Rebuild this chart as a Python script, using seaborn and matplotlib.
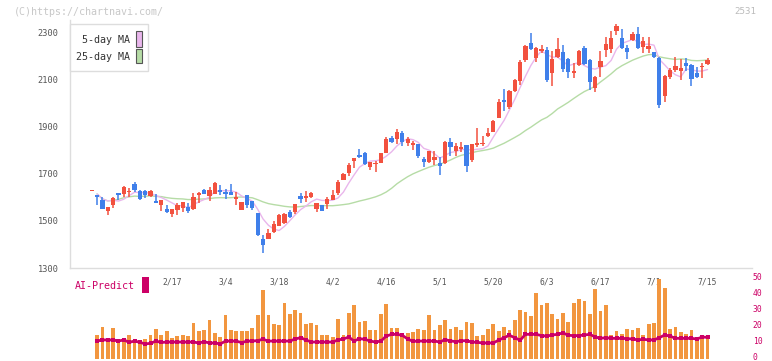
import numpy as np
import pandas as pd
import matplotlib
import matplotlib.pyplot as plt
import matplotlib.transforms as mtrans
from matplotlib.patches import Rectangle
import seaborn as sns

matplotlib.use("Agg")
sns.set_style("white")
plt.rcParams['font.family'] = ['DejaVu Sans Mono', 'DejaVu Sans']

# daily prices
opens = [1626, 1611, 1588, 1543, 1567, 1617, 1612, 1621, 1656, 1626,
         1627, 1605, 1584, 1568, 1550, 1530, 1546, 1553, 1558, 1550,
         1610, 1632, 1605, 1614, 1631, 1619, 1623, 1594, 1546, 1609,
         1584, 1532, 1423, 1423, 1451, 1479, 1489, 1539, 1539, 1605,
         1598, 1600, 1549, 1567, 1571, 1588, 1619, 1673, 1704, 1753,
         1779, 1787, 1729, 1739, 1746, 1786, 1850, 1845, 1871, 1831,
         1821, 1825, 1762, 1749, 1758, 1746, 1744, 1835, 1797, 1806,
         1821, 1758, 1821, 1825, 1861, 1878, 1937, 2011, 1983, 2051,
         2094, 2181, 2252, 2191, 2220, 2222, 2128, 2196, 2217, 2186,
         2128, 2162, 2231, 2181, 2064, 2153, 2224, 2229, 2304, 2274,
         2234, 2266, 2292, 2238, 2228, 2215, 2191, 2029, 2108, 2139,
         2136, 2169, 2160, 2128, 2150, 2164]
highs = [1626, 1611, 1600, 1558, 1600, 1617, 1647, 1638, 1666, 1630,
         1630, 1630, 1614, 1589, 1567, 1550, 1574, 1578, 1574, 1617,
         1623, 1635, 1642, 1664, 1652, 1635, 1656, 1623, 1580, 1609,
         1584, 1532, 1440, 1464, 1499, 1527, 1534, 1546, 1571, 1619,
         1626, 1623, 1576, 1567, 1600, 1631, 1673, 1701, 1746, 1765,
         1804, 1790, 1750, 1753, 1789, 1856, 1859, 1889, 1881, 1854,
         1838, 1825, 1772, 1796, 1797, 1769, 1839, 1850, 1831, 1833,
         1821, 1824, 1894, 1859, 1892, 1927, 2016, 2058, 2053, 2100,
         2183, 2245, 2297, 2235, 2245, 2238, 2219, 2276, 2245, 2190,
         2167, 2222, 2242, 2185, 2115, 2219, 2278, 2304, 2334, 2311,
         2245, 2300, 2322, 2280, 2280, 2217, 2195, 2117, 2149, 2193,
         2184, 2188, 2165, 2151, 2170, 2191]
lows = [1626, 1568, 1549, 1526, 1553, 1588, 1602, 1600, 1623, 1588,
        1595, 1600, 1574, 1543, 1532, 1517, 1525, 1539, 1534, 1546,
        1577, 1612, 1585, 1612, 1609, 1591, 1611, 1567, 1546, 1553,
        1546, 1436, 1365, 1423, 1447, 1477, 1486, 1511, 1529, 1577,
        1580, 1597, 1539, 1541, 1549, 1588, 1609, 1673, 1690, 1725,
        1767, 1738, 1715, 1708, 1743, 1786, 1828, 1824, 1817, 1817,
        1800, 1765, 1729, 1744, 1736, 1694, 1740, 1775, 1776, 1790,
        1708, 1748, 1814, 1818, 1856, 1878, 1937, 1965, 1974, 2047,
        2075, 2175, 2225, 2174, 2210, 2087, 2072, 2190, 2132, 2104,
        2104, 2157, 2160, 2054, 2047, 2108, 2196, 2210, 2287, 2230,
        2184, 2260, 2228, 2212, 2210, 2188, 1977, 2005, 2103, 2132,
        2097, 2136, 2072, 2104, 2104, 2160]
closes = [1626, 1602, 1551, 1558, 1598, 1609, 1642, 1627, 1629, 1592,
          1609, 1627, 1577, 1589, 1537, 1550, 1567, 1578, 1543, 1601,
          1614, 1614, 1631, 1660, 1620, 1614, 1611, 1602, 1580, 1567,
          1555, 1440, 1397, 1447, 1485, 1525, 1529, 1517, 1571, 1594,
          1602, 1619, 1574, 1543, 1592, 1609, 1666, 1697, 1736, 1765,
          1772, 1742, 1750, 1744, 1786, 1847, 1835, 1875, 1835, 1847,
          1828, 1776, 1750, 1796, 1772, 1733, 1835, 1811, 1818, 1813,
          1734, 1824, 1828, 1827, 1873, 1922, 2002, 2002, 2050, 2097,
          2174, 2241, 2227, 2231, 2228, 2097, 2186, 2228, 2143, 2130,
          2135, 2219, 2163, 2087, 2111, 2177, 2249, 2274, 2325, 2234,
          2217, 2292, 2231, 2263, 2241, 2195, 1991, 2114, 2139, 2156,
          2149, 2157, 2100, 2111, 2156, 2181]

# volume panel (from the 2nd day on)
volume = [14.7, 19.7, 10.9, 19.1, 10.9, 10.9, 14.7, 10.9, 10.9, 12.2,
          14.7, 18.4, 14.7, 17.2, 12.8, 14.1, 14.7, 14.1, 22.2, 17.2,
          17.8, 24.1, 16.1, 13.4, 27.2, 17.8, 17.2, 17.2, 17.2, 19.1,
          27.2, 42.8, 27.2, 21.6, 20.9, 34.7, 27.8, 30.3, 28.4, 21.6,
          22.2, 20.9, 14.7, 14.7, 13.4, 24.7, 14.7, 28.4, 33.4, 22.8,
          23.4, 17.8, 17.8, 27.8, 34.1,
          19.1, 19.1, 16.0, 16.0, 16.6, 18.4, 17.8, 27.2, 17.8, 20.9,
          24.1, 18.4, 19.7, 17.8, 22.8, 22.2, 14.1, 14.7, 18.4, 21.6,
          17.2, 19.7, 17.8, 24.1, 30.3, 29.1, 26.6, 40.9, 33.4, 34.7,
          27.8, 24.7, 28.4, 22.8, 34.7, 37.2, 35.9, 27.8, 43.4, 29.7,
          33.4, 14.7, 17.2, 15.3, 18.4, 17.8, 19.1, 14.7, 21.6, 21.9,
          49.7, 44.1, 18.4, 19.7, 16.6, 15.3, 17.8, 11.6, 14.1, 14.7]
ai_predict = [10.9, 11.6, 11.6, 11.6, 10.9, 11.6, 10.1, 10.9, 10.1, 9.1,
              9.5, 10.9, 10.0, 10.3, 10.3, 10.3, 10.3, 10.3, 10.3, 9.7,
              10.5, 9.7, 9.7, 9.1, 10.9, 10.9, 10.9, 9.9, 10.9, 10.9,
              11.2, 12.0, 10.9, 10.9, 10.9, 10.9, 10.9, 12.2, 13.0, 11.6,
              10.3, 10.3, 10.3, 10.3, 10.3, 11.6, 12.2, 13.4, 10.9, 12.4,
              12.0, 10.9, 10.3, 10.9,
              14.0, 15.1, 15.1, 14.5, 12.2, 10.7, 10.9, 10.9, 10.9, 10.9,
              10.3, 11.8, 11.0, 10.5, 11.1, 11.1, 10.3, 10.1, 9.7, 9.7,
              9.7, 11.5, 13.0, 14.5, 13.0, 11.4, 15.1, 15.1, 15.1, 14.3,
              14.0, 14.7, 15.1, 16.0, 14.5, 14.3, 14.3, 14.7, 15.1, 13.5,
              12.6, 13.0, 12.6, 12.6, 12.6, 12.4, 12.2, 11.6, 12.0, 11.6,
              11.6, 13.0, 14.7, 14.0, 12.6, 12.6, 12.6, 12.6, 12.2, 13.4, 13.2]

date_labels = ["2/17", "3/4", "3/18", "4/2", "4/16", "5/1",
               "5/20", "6/3", "6/17", "7/1", "7/15"]
date_idx = [15, 25, 35, 45, 55, 65, 75, 85, 95, 105, 115]

price_ticks = [1300, 1500, 1700, 1900, 2100, 2300]
vol_ticks = [0, 10, 20, 30, 40, 50]

df = pd.DataFrame({"open": opens, "high": highs, "low": lows, "close": closes})
df["idx"] = np.arange(len(df))
df["ma5"] = df["close"].rolling(5, min_periods=1).mean()
df["ma25"] = df["close"].rolling(25, min_periods=1).mean()

vol_df = pd.DataFrame({"idx": np.arange(1, len(df)), "vol": volume, "ai": ai_predict})

RED = "#f2513f"
BLUE = "#3f7fea"
ORANGE = "#f2963f"
MAGENTA = "#cc0066"
PINK = "#e9b6ec"
GREEN = "#b6dca6"
GRID = "#dddddd"

W, H = 772, 361
fig = plt.figure(figsize=(W / 100, H / 100), dpi=100)
ax = fig.add_axes([70 / W, (H - 268) / H, 682 / W, 248 / H])
vax = fig.add_axes([70 / W, (H - 358.5) / H, 682 / W, 88.5 / H])

x0, x1 = -4.05, 123.3

# moving averages
ma = df[df["idx"] >= 1]
sns.lineplot(data=ma, x="idx", y="ma25", color=GREEN, lw=1, ax=ax, zorder=1)
sns.lineplot(data=ma, x="idx", y="ma5", color=PINK, lw=1, ax=ax, zorder=1)

# candles
for _, r in df.iterrows():
    c = RED if r["close"] >= r["open"] else BLUE
    ax.vlines(r["idx"], r["low"], r["high"], color=c, lw=1.1, zorder=2)
    lo = min(r["open"], r["close"])
    h = max(abs(r["close"] - r["open"]), 6)
    ax.bar(r["idx"], h, bottom=lo, width=0.8, color=c, lw=0, zorder=3)

ax.set_xlim(x0, x1)
ax.set_ylim(1300, 2351)
ax.set_yticks(price_ticks)
ax.set_yticklabels([str(t) for t in price_ticks])
xt = [(70 + 62 * k - 91.7) / 5.355 for k in range(12)]
ax.set_xticks(xt)
ax.set_xticklabels([])
ax.tick_params(axis="both", direction="inout", length=6.5, width=1, color=GRID,
               labelsize=6.2, labelcolor="#555555", pad=5)
for s in ["top", "right"]:
    ax.spines[s].set_visible(False)
for s in ["left", "bottom"]:
    ax.spines[s].set_color(GRID)
    ax.spines[s].set_linewidth(1)
ax.set_xlabel("")
ax.set_ylabel("")

# volume + AI predict
for lbl, i in zip(date_labels, date_idx):
    vax.text(i, 47.8, lbl, ha="center", va="center", fontsize=5.8,
             color="#555555", zorder=0.5)
vax.bar(vol_df["idx"], vol_df["vol"], width=0.7, color=ORANGE, lw=0, zorder=2)
sns.lineplot(data=vol_df, x="idx", y="ai", color=MAGENTA, lw=2, marker="s",
             markersize=2.6, markeredgewidth=0, ax=vax, zorder=4)
vax.set_xlim(x0, x1)
vax.set_ylim(0, 55.3)
vax.yaxis.tick_right()
vax.set_yticks(vol_ticks)
vax.set_yticklabels([str(t) for t in vol_ticks])
vax.set_xticks([])
vax.tick_params(axis="y", length=0, pad=0.5, labelsize=5.8, labelcolor=MAGENTA)
shift = mtrans.ScaledTranslation(0, 2 / 100, fig.dpi_scale_trans)
for lab in vax.get_yticklabels():
    lab.set_transform(lab.get_transform() + shift)
for s in vax.spines.values():
    s.set_visible(False)
vax.set_xlabel("")
vax.set_ylabel("")
vax.patch.set_alpha(0)

# legend box
fig.add_artist(Rectangle((70.3 / W, 1 - 71.3 / H), 78 / W, 47.3 / H,
                         transform=fig.transFigure, facecolor="white",
                         edgecolor=GRID, lw=1))
fig.text(130 / W, 1 - 40 / H, "5-day MA", ha="right", va="center",
         fontsize=7.2, color="#333333")
fig.text(130 / W, 1 - 57 / H, "25-day MA", ha="right", va="center",
         fontsize=7.2, color="#333333")
fig.add_artist(Rectangle((136.3 / W, 1 - 46.7 / H), 6 / W, 15.4 / H,
                         transform=fig.transFigure, facecolor=PINK,
                         edgecolor="#555555", lw=0.8))
fig.add_artist(Rectangle((136.3 / W, 1 - 63.3 / H), 6 / W, 14.6 / H,
                         transform=fig.transFigure, facecolor=GREEN,
                         edgecolor="#555555", lw=0.8))

# AI-Predict label
fig.text(75 / W, 1 - 286 / H, "AI-Predict", ha="left", va="center",
         fontsize=7.2, color=MAGENTA)
fig.add_artist(Rectangle((142.3 / W, 1 - 292.7 / H), 6.7 / W, 15.4 / H,
                         transform=fig.transFigure, facecolor=MAGENTA, lw=0))

# watermarks
fig.text(14 / W, 1 - 12 / H, "(C)https://chartnavi.com/", ha="left",
         va="center", fontsize=7.2, color="#c8c8c8")
fig.text(756 / W, 1 - 12 / H, "2531", ha="right", va="center",
         fontsize=6.6, color="#bbbbbb")

fig.savefig("out.png", dpi=100)
